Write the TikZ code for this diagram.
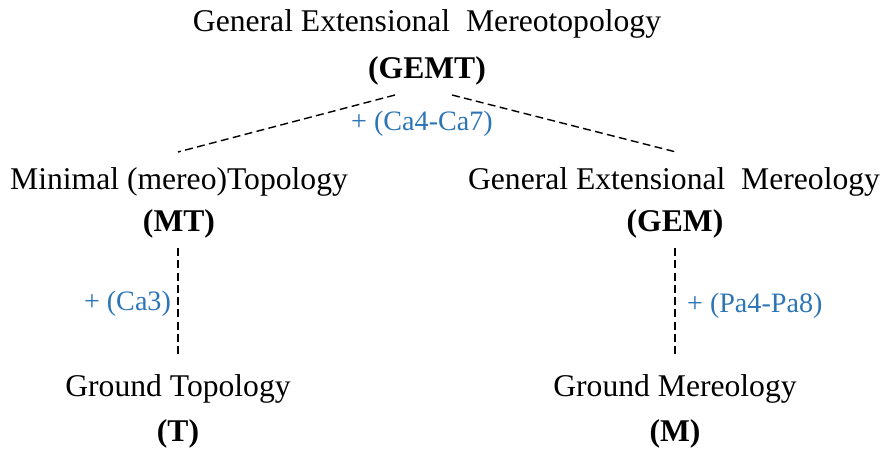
\documentclass[tikz,border=0pt]{standalone}
\usepackage{fontspec}
\setmainfont{Liberation Serif}
\usepackage{xcolor}
\usetikzlibrary{positioning}

\definecolor{axblue}{HTML}{2E75B6}

\begin{document}
\begin{tikzpicture}[x=0.02cm, y=-0.02cm,
    theory/.style={anchor=base, inner sep=1pt, font=\fontsize{18}{21}\selectfont},
    abbr/.style={theory, font=\fontsize{18}{21}\selectfont\bfseries},
    axioms/.style={anchor=base, inner sep=1pt, text=axblue, font=\fontsize{16}{19}\selectfont},
    conn/.style={thick, dashed, dash pattern=on 4.5pt off 2.5pt}]
    \useasboundingbox (0,0) rectangle (882,450);
    % top: GEMT
    \node[theory] (nGEMT) at (427,31) {General Extensional~ Mereotopology};
    \node[abbr] (aGEMT) at (427,78) {(GEMT)};
    % middle row
    \node[theory] (nMT) at (179,189) {Minimal (mereo)Topology};
    \node[abbr] (aMT) at (179,231) {(MT)};
    \node[theory] (nGEM) at (674,189) {General Extensional~ Mereology};
    \node[abbr] (aGEM) at (675,231) {(GEM)};
    % bottom row
    \node[theory] (nT) at (178,396) {Ground Topology};
    \node[abbr] (aT) at (178,441) {(T)};
    \node[theory] (nM) at (675,396) {Ground Mereology};
    \node[abbr] (aM) at (675,441) {(M)};

    % connector ends
    \coordinate (gemtL) at (395,95);
    \coordinate (gemtR) at (452,95);
    \coordinate (mtTop) at (178,152);
    \coordinate (gemTop) at (676,152);
    \coordinate (mtBot) at (178,248);
    \coordinate (tTop) at (178,358);
    \coordinate (gemBot) at (675,248);
    \coordinate (mTop) at (675,358);
    % connectors
    \draw[conn] (gemtL) -- (mtTop);
    \draw[conn] (gemtR) -- (gemTop);
    \draw[conn] (mtBot) -- (tTop);
    \draw[conn] (gemBot) -- (mTop);

    % axiom labels
    \node[axioms] (axTop) at (422,130) {+ (Ca4-Ca7)};
    \node[axioms, anchor=base east] (axMT) at (173,310) {+ (Ca3)};
    \node[axioms, anchor=base west] (axGEM) at (685,312) {+ (Pa4-Pa8)};
\end{tikzpicture}
\end{document}
